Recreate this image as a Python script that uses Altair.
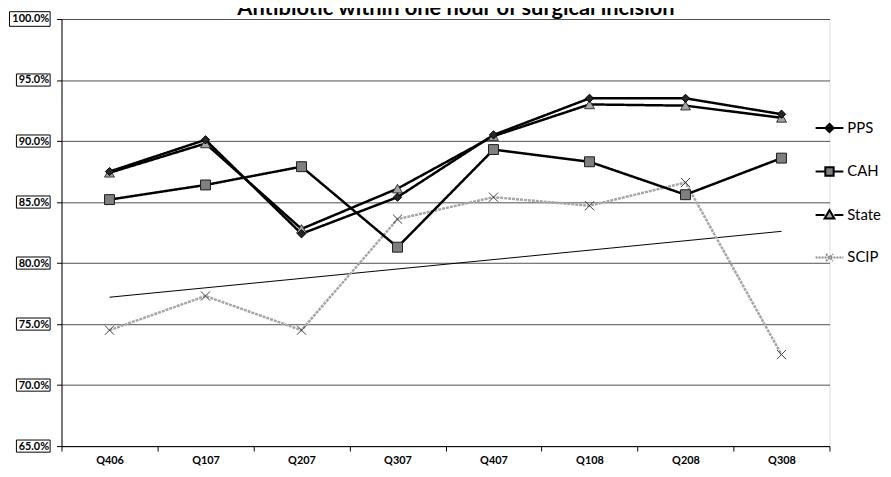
import altair as alt
import pandas as pd

quarters = ["Q406", "Q107", "Q207", "Q307", "Q407", "Q108", "Q208", "Q308"]
series_names = ["PPS", "CAH", "State", "SCIP"]
pps = [87.5, 90.1, 82.4, 85.4, 90.5, 93.5, 93.5, 92.2]
cah = [85.2, 86.4, 87.9, 81.3, 89.3, 88.3, 85.6, 88.6]
state = [87.4, 89.8, 82.8, 86.1, 90.4, 93.0, 92.9, 91.9]
scip = [74.5, 77.3, 74.5, 83.6, 85.4, 84.7, 86.6, 72.5]
trend_quarters = ["Q406", "Q308"]
trend_values = [77.2, 82.6]
y_ticks = [65, 70, 75, 80, 85, 90, 95, 100]
title_text = "Antibiotic within one hour of surgical incision"

rows = []
for name, vals in zip(series_names, [pps, cah, state, scip]):
    for q, v in zip(quarters, vals):
        rows.append({"Quarter": q, "Series": name, "Value": v})
df = pd.DataFrame(rows)
trend_df = pd.DataFrame({"Quarter": trend_quarters, "Value": trend_values})
ticks_df = pd.DataFrame({"Value": y_ticks})
title_df = pd.DataFrame({"title": [title_text]})

FONT = "Lato"

x_enc = alt.X(
    "Quarter:N",
    sort=quarters,
    scale=alt.Scale(type="band", domain=quarters, paddingInner=0, paddingOuter=0),
    axis=alt.Axis(
        title=None, tickBand="extent", labelFont=FONT, labelFontWeight="bold",
        labelFontSize=11, labelColor="black", tickSize=5, tickColor="black",
        domainColor="black", domainWidth=1, labelPadding=4, grid=False, labelAngle=0,
    ),
)
y_enc = alt.Y(
    "Value:Q",
    scale=alt.Scale(domain=[65, 100], nice=False, zero=False),
    axis=alt.Axis(
        title=None, values=y_ticks, labelExpr="format(datum.value, '.1f') + '%'",
        grid=True, gridColor="#505050", gridWidth=1, labelFont=FONT,
        labelFontWeight="bold", labelFontSize=11, labelColor="black",
        tickSize=5, tickColor="black", domainColor="black", domainWidth=1,
        labelPadding=8,
    ),
)

styles = {
    "PPS": dict(line="black", dash=[1, 0], shape="diamond", size=70, fill="#262626", stroke="black"),
    "CAH": dict(line="black", dash=[1, 0], shape="square", size=100, fill="#7f7f7f", stroke="#1a1a1a"),
    "State": dict(line="black", dash=[1, 0], shape="triangle-up", size=100, fill="#a6a6a6", stroke="#333333"),
    "SCIP": dict(line="#a6a6a6", dash=[3, 1], shape="M-1,-1L1,1M-1,1L1,-1", size=85, fill="transparent", stroke="#404040"),
}

base = alt.Chart(df)
layers = []

# trend line
layers.append(
    alt.Chart(trend_df).mark_line(color="black", strokeWidth=1).encode(x=x_enc, y=y_enc)
)

for name in ["SCIP", "CAH", "State", "PPS"]:
    s = styles[name]
    layers.append(
        base.transform_filter(alt.datum.Series == name)
        .mark_line(color=s["line"], strokeWidth=2.5, strokeDash=s["dash"])
        .encode(x=x_enc, y=y_enc)
    )
for name in ["SCIP", "CAH", "State", "PPS"]:
    s = styles[name]
    layers.append(
        base.transform_filter(alt.datum.Series == name)
        .mark_point(shape=s["shape"], size=s["size"], fill=s["fill"], stroke=s["stroke"],
                    strokeWidth=1, opacity=1, filled=False)
        .encode(x=x_enc, y=y_enc)
    )

# boxes around y tick labels
box_path = "M-1,-0.36H1V0.36H-1Z"
layers.append(
    alt.Chart(ticks_df).transform_filter(alt.datum.Value >= 100)
    .mark_point(shape=box_path, fill="transparent", stroke="black", strokeWidth=1,
                opacity=1, size=41 * 41)
    .encode(y=y_enc, x=alt.value(-32))
)
layers.append(
    alt.Chart(ticks_df).transform_filter(alt.datum.Value < 100)
    .mark_point(shape=box_path, fill="transparent", stroke="black", strokeWidth=1,
                opacity=1, size=34 * 34)
    .encode(y=y_enc, x=alt.value(-28.5))
)

# chart title (sits partly above the top edge, as in the original)
layers.append(
    alt.Chart(title_df)
    .mark_text(font=FONT, fontSize=22, fontWeight="bold", color="black",
               align="center", baseline="alphabetic")
    .encode(text="title:N", x=alt.value(398), y=alt.value(-4.5))
)

legend_shapes = [
    "M-1,0H1M0,-0.3L0.3,0L0,0.3L-0.3,0Z",
    "M-1,0H-0.3M0.3,0H1M-0.3,-0.3H0.3V0.3H-0.3Z",
    "M-1,0H-0.35M0.35,0H1M0,-0.35L0.35,0.25H-0.35Z",
    "M-1,0H1M-0.25,-0.25L0.25,0.25M-0.25,0.25L0.25,-0.25",
]
leg = alt.Legend(
    orient="none", legendX=760, legendY=95, title=None, symbolSize=784,
    symbolStrokeWidth=2, labelFont=FONT, labelFontSize=15, labelColor="black",
    rowPadding=19.9, padding=0, labelOffset=3, symbolOpacity=1,
)
layers.append(
    base.transform_filter("false")
    .mark_point(opacity=1)
    .encode(
        x=x_enc, y=y_enc,
        shape=alt.Shape("Series:N", scale=alt.Scale(domain=series_names, range=legend_shapes), legend=leg),
        fill=alt.Fill("Series:N", scale=alt.Scale(domain=series_names, range=["#1a1a1a", "#7f7f7f", "#a6a6a6", "transparent"]), legend=leg),
        stroke=alt.Stroke("Series:N", scale=alt.Scale(domain=series_names, range=["black", "black", "black", "#8c8c8c"]), legend=leg),
        strokeDash=alt.StrokeDash("Series:N", scale=alt.Scale(domain=series_names, range=[[1, 0], [1, 0], [1, 0], [2, 1]]), legend=leg),
    )
)

chart = (
    alt.layer(*layers)
    .properties(
        width=775, height=431,
        autosize=alt.AutoSizeParams(type="none"),
        padding={"left": 54, "top": 9, "right": 54, "bottom": 21},
    )
    .configure_view(stroke=None)
    .configure(background="white")
)

chart.save("out.html", embed_options={"renderer": "svg", "actions": False})
